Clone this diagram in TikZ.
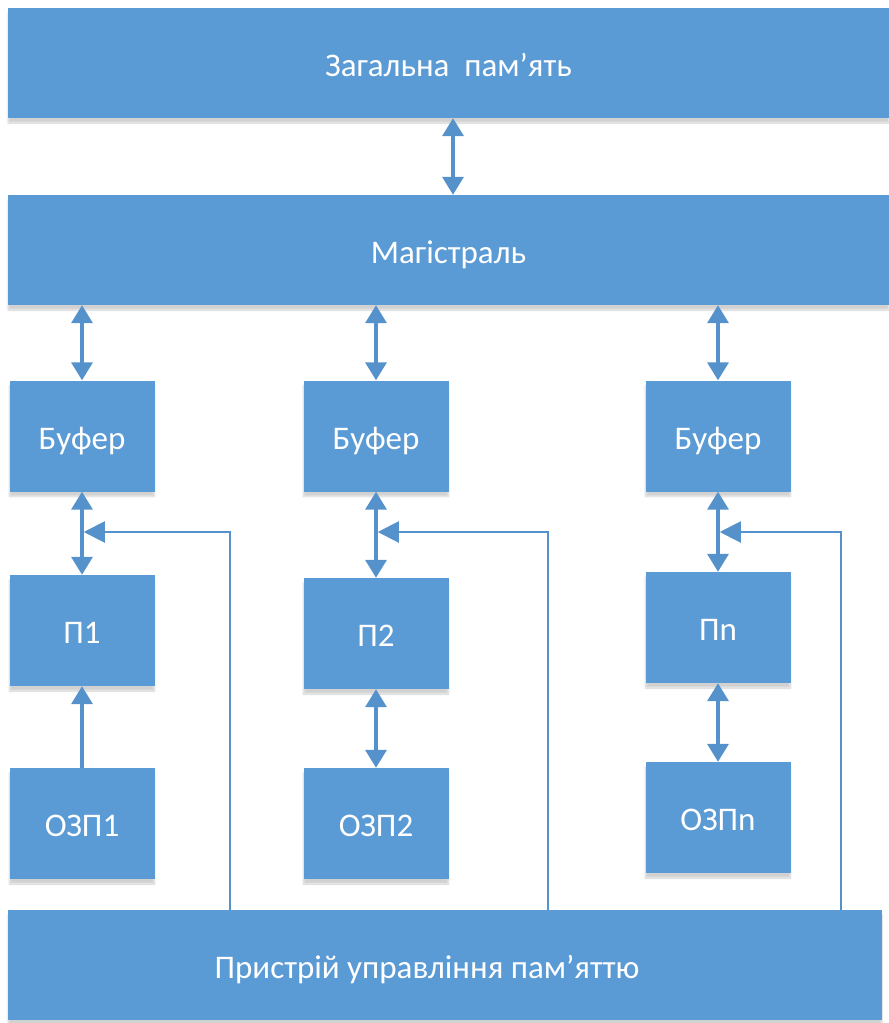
\documentclass[tikz,border=0pt]{standalone}
\usepackage{fontspec}
\setmainfont{Carlito}
\usetikzlibrary{arrows.meta,shadows.blur}
\definecolor{boxblue}{HTML}{5B9BD5}
\definecolor{lineblue}{HTML}{5592CC}
\begin{document}
\begin{tikzpicture}[x=1pt,y=-1pt,
  boxfont/.style={text=white,font=\fontsize{33}{36}\selectfont,text height=29pt,text depth=3pt},
  box/.style={fill=boxblue,draw=none,inner sep=0pt,boxfont,
    blur shadow={shadow xshift=0pt,shadow yshift=-5pt,shadow blur steps=6,shadow opacity=18}},
  wide/.style={box,minimum width=881pt,minimum height=110pt},
  small/.style={box,minimum width=145pt,minimum height=111pt},
  dbl/.style={draw=lineblue,line width=3.5pt,{Triangle[width=21pt,length=18pt]}-{Triangle[width=21pt,length=18pt]}},
  uni/.style={draw=lineblue,line width=3.5pt,-{Triangle[width=21pt,length=18pt]}},
  ctrl/.style={draw=lineblue,line width=2pt,-{Triangle[width=21pt,length=21pt]}}]
\useasboundingbox (0,0) rectangle (889,1023);

% shared memory, bus and memory management unit
\node[wide] (mem) at (448.5,63) {Загальна\ \ пам’ять};
\node[wide] (bus) at (448.5,250) {Магістраль};
\node[box,minimum width=874pt,minimum height=110pt,
  label={[boxfont,inner sep=0pt,xshift=-18pt]center:Пристрій управління пам’яттю}]
  (mmu) at (445,965) {};

% processor columns
\node[small] (buf1) at (82,436) {Буфер};
\node[small] (buf2) at (376,436) {Буфер};
\node[small] (buf3) at (718,436) {Буфер};
\node[small] (p1) at (82,630.5) {П1};
\node[small] (p2) at (376,633.5) {П2};
\node[small] (pn) at (718,627.5) {Пn};
\node[small] (ram1) at (82,823.5) {ОЗП1};
\node[small] (ram2) at (376,823.5) {ОЗП2};
\node[small] (ramn) at (718,817.5) {ОЗПn};

% data paths
\draw[dbl] ([xshift=4.5pt]mem.south) -- ([xshift=4.5pt]bus.north);
\foreach \b in {buf1,buf2,buf3}
  \draw[dbl] (bus.south -| \b.north) -- (\b.north);
\draw[dbl] (buf1.south) -- (p1.north);
\draw[dbl] (buf2.south) -- (p2.north);
\draw[dbl] (buf3.south) -- (pn.north);
\draw[uni] (ram1.north) -- (p1.south);
\draw[dbl] (p2.south) -- (ram2.north);
\draw[dbl] (pn.south) -- (ramn.north);

% control lines from the memory management unit
\coordinate (k1) at (230,532);
\coordinate (k2) at (548,532);
\coordinate (k3) at (841,532);
\draw[ctrl] (mmu.north -| k1) -- (k1) -- ([xshift=1.75pt]k1 -| buf1.south);
\draw[ctrl] (mmu.north -| k2) -- (k2) -- ([xshift=1.75pt]k2 -| buf2.south);
\draw[ctrl] (mmu.north -| k3) -- (k3) -- ([xshift=1.75pt]k3 -| buf3.south);
\end{tikzpicture}
\end{document}
